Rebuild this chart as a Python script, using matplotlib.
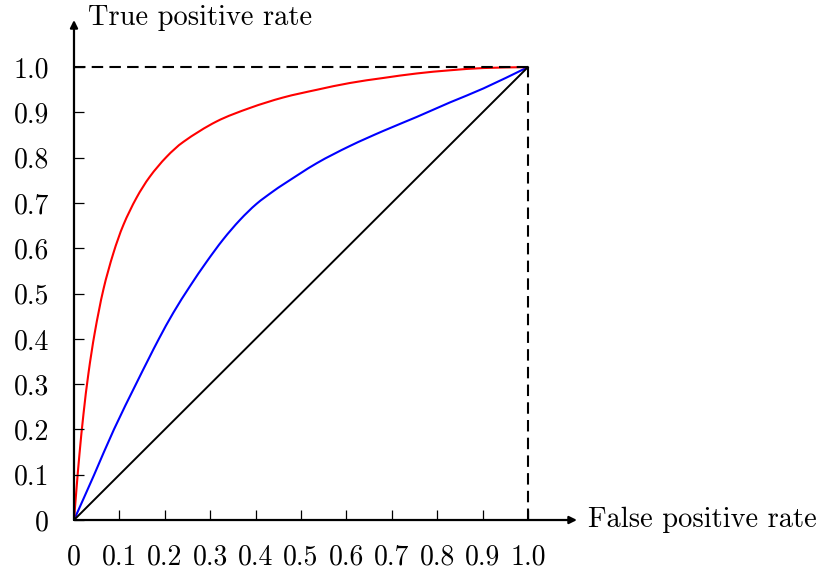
import matplotlib
matplotlib.use("Agg")
import numpy as np
import matplotlib.pyplot as plt
from matplotlib.path import Path
from matplotlib.patches import PathPatch

plt.rcParams["font.family"] = ["cmr10", "DejaVu Serif"]
plt.rcParams["axes.formatter.use_mathtext"] = True

# ROC curves
red_fpr = [0, 0.006, 0.012, 0.021, 0.032, 0.046, 0.065, 0.087, 0.109, 0.138,
           0.167, 0.204, 0.241, 0.314, 0.388, 0.461, 0.535, 0.608, 0.681,
           0.755, 0.828, 0.902, 1.0]
red_tpr = [0, 0.075, 0.145, 0.235, 0.325, 0.415, 0.51, 0.59, 0.652, 0.712,
           0.758, 0.802, 0.835, 0.880, 0.910, 0.933, 0.950, 0.965, 0.976,
           0.986, 0.993, 0.998, 1.0]

blue_fpr = [0, 0.044, 0.088, 0.139, 0.164, 0.187, 0.219, 0.256, 0.292, 0.329,
            0.366, 0.402, 0.439, 0.461, 0.535, 0.608, 0.681, 0.755, 0.828,
            0.902, 1.0]
blue_tpr = [0, 0.099, 0.2, 0.305, 0.355, 0.400, 0.458, 0.517, 0.570, 0.620,
            0.663, 0.698, 0.726, 0.741, 0.788, 0.826, 0.859, 0.890, 0.922,
            0.953, 1.0]

diag = [0, 1.0]

ticks = [0, 0.1, 0.2, 0.3, 0.4, 0.5, 0.6, 0.7, 0.8, 0.9, 1.0]
tick_labels = ["0", "0.1", "0.2", "0.3", "0.4", "0.5", "0.6", "0.7", "0.8", "0.9", "1.0"]


def smooth_path(xs, ys):
    # cubic bezier through the points (catmull-rom style tangents)
    p = np.column_stack([xs, ys]).astype(float)
    n = len(p)
    d = np.linalg.norm(np.diff(p, axis=0), axis=1)
    m = np.zeros_like(p)
    m[0] = (p[1] - p[0]) / d[0]
    m[-1] = (p[-1] - p[-2]) / d[-1]
    for i in range(1, n - 1):
        m[i] = (p[i + 1] - p[i - 1]) / (d[i - 1] + d[i])
    verts = [p[0]]
    codes = [Path.MOVETO]
    for i in range(n - 1):
        h = d[i]
        verts += [p[i] + m[i] * h / 3, p[i + 1] - m[i + 1] * h / 3, p[i + 1]]
        codes += [Path.CURVE4] * 3
    return Path(verts, codes)


fig = plt.figure(figsize=(8.24, 5.69), dpi=100)
ax = fig.add_axes([0.0898, 0.0861, 0.6104, 0.8787])
ax.set_xlim(0, 1.108)
ax.set_ylim(0, 1.104)

for s in ax.spines.values():
    s.set_visible(False)

# dashed box to (1, 1)
ax.plot([0, 1.0], [1.0, 1.0], color="black", lw=1.5, ls=(0, (5.5, 3)))
ax.plot([1.0, 1.0], [0, 1.0], color="black", lw=1.5, ls=(0, (5.5, 3)))

ax.plot(diag, diag, color="black", lw=1.4)
ax.add_patch(PathPatch(smooth_path(blue_fpr, blue_tpr), fill=False, edgecolor="blue", lw=1.5))
ax.add_patch(PathPatch(smooth_path(red_fpr, red_tpr), fill=False, edgecolor="red", lw=1.5))

# axes with arrows
arrow = dict(arrowstyle="-|>", lw=1.6, color="black", mutation_scale=11,
             shrinkA=0, shrinkB=0)
ax.annotate("", xy=(1.108, 0), xytext=(0, 0), arrowprops=arrow, annotation_clip=False)
ax.annotate("", xy=(0, 1.104), xytext=(0, 0), arrowprops=arrow, annotation_clip=False)

ax.set_xticks(ticks)
ax.set_xticklabels(tick_labels)
ax.set_yticks(ticks)
ax.set_yticklabels(tick_labels)
ax.tick_params(direction="in", length=7, width=0.9, labelsize=20)
ax.tick_params(axis="x", pad=17.5)
ax.tick_params(axis="y", pad=18)

ax.text(0.031, 1.108, "True positive rate", fontsize=20.5, ha="left", va="center")
ax.text(1.132, 0.0, "False positive rate", fontsize=20.5, ha="left", va="center")

fig.savefig("out.png", dpi=100)
